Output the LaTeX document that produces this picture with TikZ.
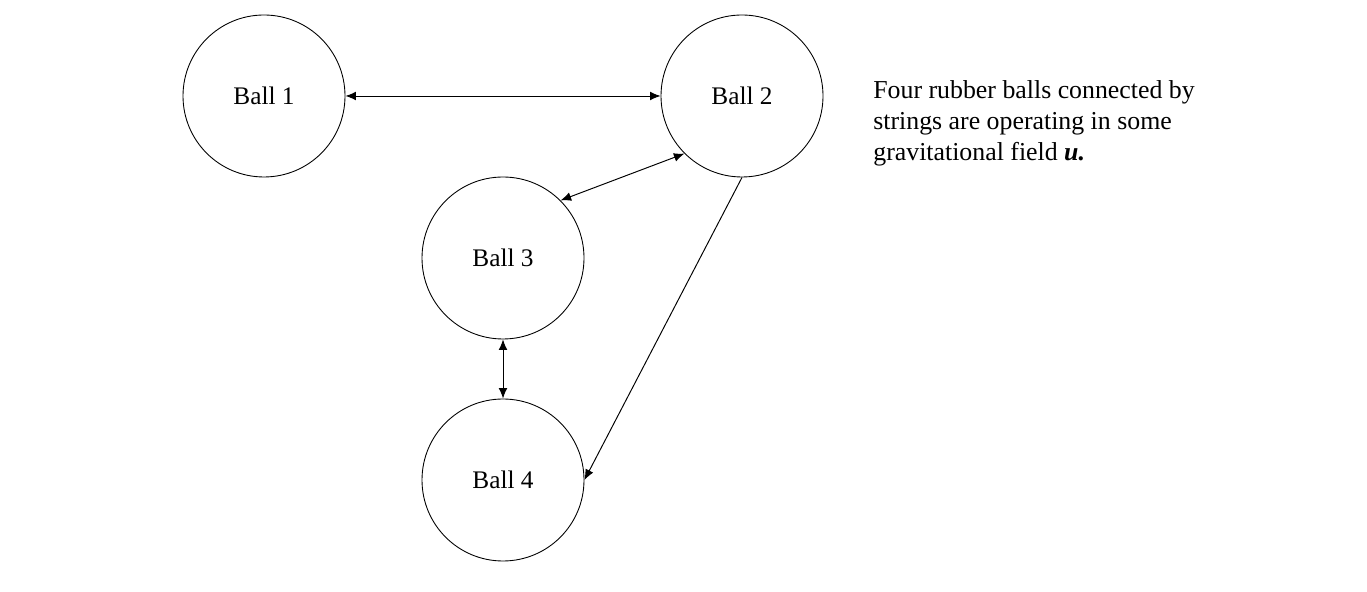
\documentclass[tikz,border=0pt]{standalone}
\usepackage{fontspec}
\setmainfont{Liberation Serif}
\usepackage{tikz}
\usetikzlibrary{
    arrows.meta
}

\begin{document}
\begin{tikzpicture}[
    ball/.style={draw, circle, minimum size=3.24cm, inner sep=0pt, line width=0.5pt,
                 font=\fontsize{14.4}{17.6}\selectfont},
    string/.style={line width=0.55pt, {Latex[length=6pt,width=5pt]}-{Latex[length=6pt,width=5pt]}},
    onestring/.style={line width=0.55pt, -{Latex[length=6pt,width=5pt]}}
]
        \useasboundingbox (0, 0) rectangle (27.34, 11.84);
		\node [ball] (ball1) at (5.28, 9.92) {Ball 1};
		\node [ball] (ball2) at (14.84, 9.92) {Ball 2};
		\node [ball] (ball3) at (10.06, 6.68) {Ball 3};
		\node [ball] (ball4) at (10.06, 2.24) {Ball 4};
		\draw [string] (ball1) -- (ball2);
		\draw [string] (ball2.225) -- (ball3.45);
		\draw [string] (ball3) -- (ball4);
		\draw [onestring] (ball2.south) -- (ball4.east);
        % caption
		\node [anchor=north west, inner sep=0pt, align=left,
		       font=\fontsize{14.7}{17.6}\selectfont] (caption) at (17.46, 10.24)
		      {Four rubber balls connected by\\strings are operating in some\\gravitational field \textbf{\textit{u.}}};
	\end{tikzpicture}
\end{document}
